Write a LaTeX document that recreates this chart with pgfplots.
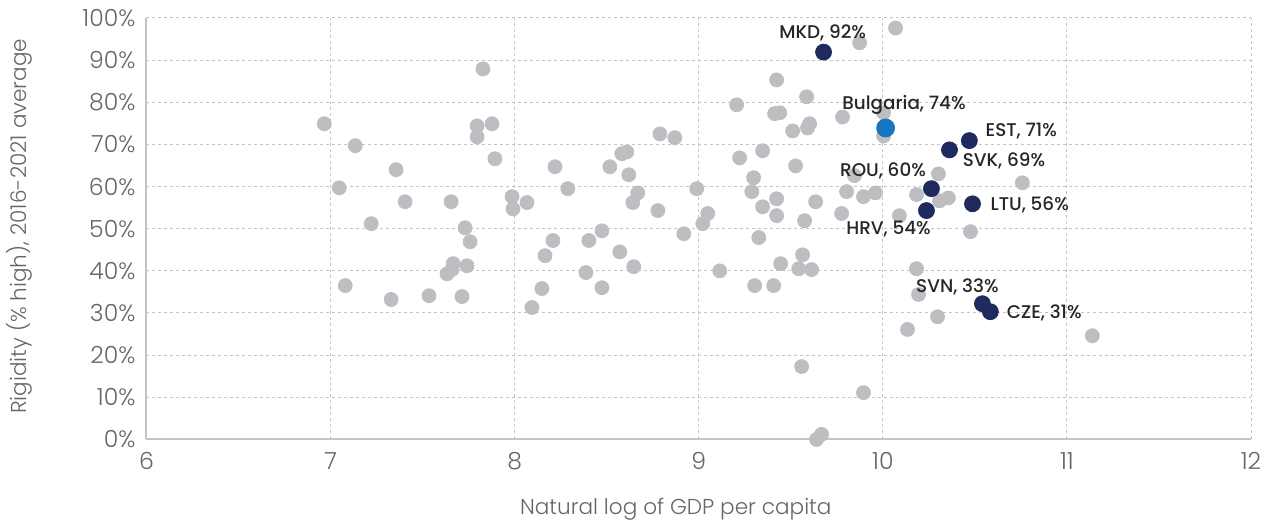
\documentclass[border=0pt]{standalone}
\usepackage{fontspec}
\setmainfont{Poppins}
\newfontfamily\lightfont{Poppins Light}
\newfontfamily\medfont{Poppins Medium}
\usepackage{pgfplots}
\pgfplotsset{compat=1.18}
\definecolor{dotgray}{HTML}{BDBEC2}
\definecolor{navy}{HTML}{1F2A5E}
\definecolor{bgblue}{HTML}{1577C0}
\definecolor{gridgray}{HTML}{C4C4C4}
\definecolor{txtgray}{HTML}{666666}
\definecolor{lbl}{HTML}{262626}
\begin{document}
\begin{tikzpicture}
\begin{axis}[
  scale only axis, width=553pt, height=211pt,
  xmin=6, xmax=12, ymin=0, ymax=100,
  xtick={6,7,8,9,10,11,12}, xticklabels={6,7,8,9,10,11,12},
  ytick={0,10,...,100},
  yticklabels={0\%,10\%,20\%,30\%,40\%,50\%,60\%,70\%,80\%,90\%,100\%},
  axis lines=left, axis line style={-, gridgray, line width=1pt},
  major tick length=0pt,
  grid=major, major grid style={gridgray, line width=0.5pt, dash pattern=on 1.5pt off 1.5pt},
  ticklabel style={font=\lightfont\fontsize{11.8}{13}\selectfont, text=txtgray},
  xticklabel style={yshift=-3pt},
  yticklabel style={xshift=-2pt},
  xlabel={Natural log of GDP per capita},
  ylabel={Rigidity (\% high), 2016-2021 average},
  label style={font=\lightfont\fontsize{10.8}{12}\selectfont, text=txtgray},
  every axis x label/.append style={at={(265pt,-35pt)}, anchor=center},
  every axis y label/.append style={at={(-63.5pt,106.75pt)}, anchor=center},
  clip=false,
]
\addplot[only marks, mark=*, mark size=3.5pt, color=dotgray] coordinates {
(6.966,74.9) (7.047,59.7) (7.134,69.7) (7.080,36.5) (7.221,51.2) (7.329,33.2)
(7.356,64.0) (7.405,56.4) (7.535,34.1) (7.633,39.3) (7.655,56.4) (7.666,41.7)
(7.660,40.3) (7.714,33.9) (7.731,50.2) (7.741,41.2) (7.758,46.9) (7.796,74.4)
(7.796,71.8) (7.828,87.9) (7.877,74.9) (7.893,66.6) (7.986,57.6) (7.991,54.7)
(8.067,56.2) (8.094,31.3) (8.148,35.8) (8.165,43.6) (8.208,47.2) (8.219,64.7)
(8.289,59.5) (8.387,39.6) (8.403,47.2) (8.474,36.0) (8.474,49.5) (8.517,64.7)
(8.571,44.5) (8.582,67.8) (8.609,68.2) (8.620,62.8) (8.642,56.2) (8.647,41.0)
(8.669,58.5) (8.778,54.3) (8.789,72.5) (8.870,71.6) (8.919,48.8) (8.989,59.5)
(9.022,51.2) (9.049,53.6) (9.114,40.0) (9.206,79.4) (9.222,66.8) (9.288,58.8)
(9.298,62.1) (9.304,36.5) (9.326,47.9) (9.347,55.2) (9.347,68.5) (9.407,36.5)
(9.412,77.3) (9.440,77.5) (9.423,85.3) (9.423,57.1) (9.423,53.1) (9.445,41.7)
(9.510,73.2) (9.526,64.9) (9.543,40.5) (9.559,17.3) (9.564,43.8) (9.575,51.9)
(9.586,81.3) (9.591,73.9) (9.602,74.9) (9.613,40.3) (9.635,56.4) (9.640,0.0)
(9.667,1.2) (9.781,76.5) (9.776,53.6) (9.803,58.8) (9.846,62.6) (9.874,94.1)
(9.895,57.6) (9.895,11.1) (9.960,58.5) (10.004,77.5) (10.004,72.0) (10.069,97.6)
(10.090,53.1) (10.134,26.1) (10.183,58.1) (10.183,40.5) (10.194,34.4) (10.297,29.1)
(10.302,63.0) (10.308,56.6) (10.356,57.3) (10.476,49.3) (10.758,60.9) (11.138,24.6)
};
\addplot[only marks, mark=*, mark size=4pt, color=navy] coordinates {
(9.678,91.9) (10.470,70.9) (10.362,68.7) (10.264,59.5) (10.237,54.3)
(10.487,55.9) (10.541,32.2) (10.584,30.3)
};
\addplot[only marks, mark=*, mark size=4.5pt, color=bgblue] coordinates {
(10.015,73.9)
};
\coordinate (lMKD) at (axis cs:9.673,96.4);
\coordinate (lBG) at (axis cs:10.115,79.3);
\coordinate (lEST) at (axis cs:10.752,73.1);
\coordinate (lSVK) at (axis cs:10.658,66.2);
\coordinate (lROU) at (axis cs:10.001,63.6);
\coordinate (lHRV) at (axis cs:10.031,49.8);
\coordinate (lLTU) at (axis cs:10.798,55.7);
\coordinate (lSVN) at (axis cs:10.405,36.3);
\coordinate (lCZE) at (axis cs:10.877,30.0);
\end{axis}
\begin{scope}[every node/.style={font=\medfont\fontsize{9.2}{10}\selectfont, text=lbl, inner sep=0pt}]
\node at (lMKD) {MKD, 92\%};
\node at (lBG) {Bulgaria, 74\%};
\node at (lEST) {EST, 71\%};
\node at (lSVK) {SVK, 69\%};
\node at (lROU) {ROU, 60\%};
\node at (lHRV) {HRV, 54\%};
\node at (lLTU) {LTU, 56\%};
\node at (lSVN) {SVN, 33\%};
\node at (lCZE) {CZE, 31\%};
\end{scope}
\path (-72.5pt,-42pt) rectangle (564pt,220pt);
\end{tikzpicture}
\end{document}
